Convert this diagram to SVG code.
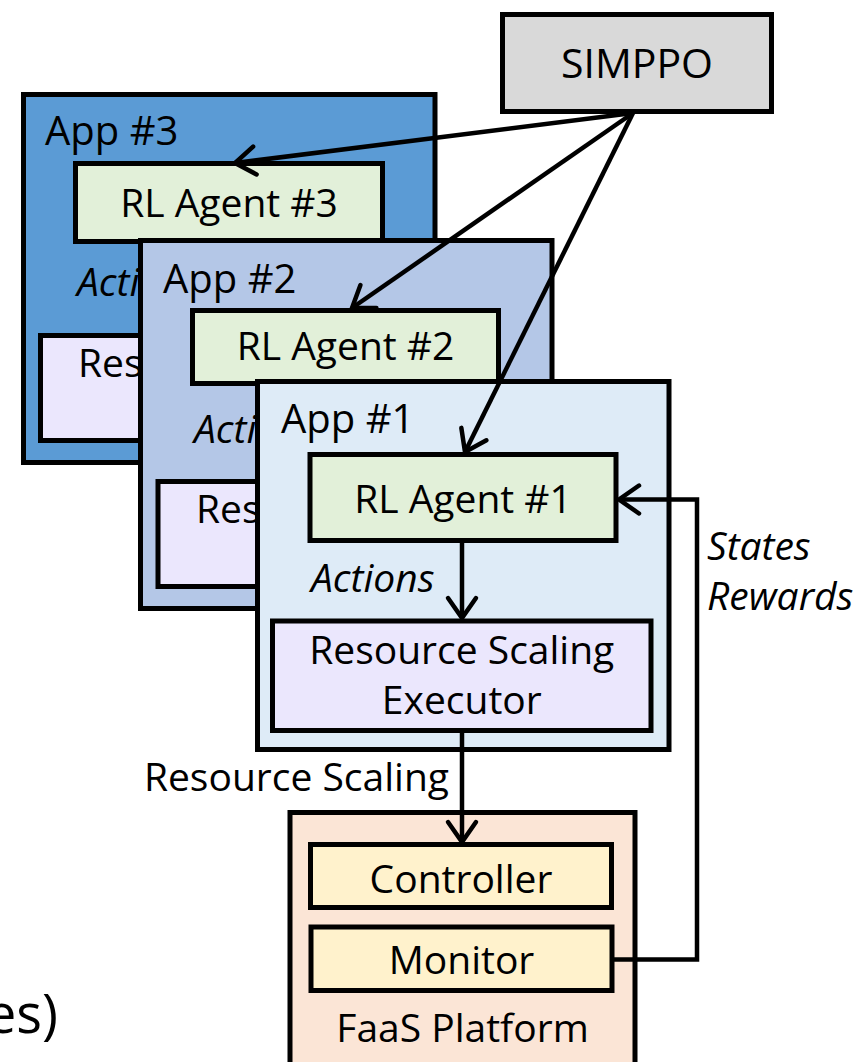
<svg xmlns="http://www.w3.org/2000/svg" width="861" height="1062" viewBox="0 0 861 1062">
<defs>
<style>
.box{stroke:#000;stroke-width:5;}
.t{font-family:"Open Sans","Liberation Sans",sans-serif;font-size:39px;fill:#000;}
.c{text-anchor:middle;}
.i{font-style:italic;}
.ln{fill:none;stroke:#000;stroke-width:4.5;}
</style>
<marker id="ah" markerUnits="userSpaceOnUse" viewBox="-30 -20 40 40" markerWidth="40" markerHeight="40" refX="0" refY="0" orient="auto" overflow="visible">
<path d="M-20,-14 L0,0 L-20,14" fill="none" stroke="#000" stroke-width="4.5" stroke-linecap="round" stroke-linejoin="miter"/>
</marker>
</defs>
<rect width="861" height="1062" fill="#fff"/>

<g id="simppo">
<rect class="box" x="502.5" y="14.5" width="269" height="97" fill="#d9d9d9"/>
<text class="t c" x="637" y="78" style="font-size:41px">SIMPPO</text>
</g>

<g id="app3">
<rect class="box" x="23.5" y="94.5" width="411.5" height="368" fill="#5b9bd5"/>
<text class="t" x="45" y="145" style="font-size:40px">App #3</text>
<g id="agent3">
<rect class="box" x="75.5" y="163.5" width="307" height="78" fill="#e2f0d9"/>
<text class="t c" x="229" y="217">RL Agent #3</text>
</g>
<text class="t i" x="77" y="296">Acti</text>
<g id="exec3">
<rect class="box" x="40.5" y="335.5" width="378" height="105" fill="#ebe7fd"/>
<text class="t" x="78" y="377">Res</text>
</g>
</g>

<g id="app2">
<rect class="box" x="140.5" y="240.5" width="411.5" height="368" fill="#b4c7e7"/>
<text class="t" x="163" y="293" style="font-size:40px">App #2</text>
<g id="agent2">
<rect class="box" x="192.5" y="310.5" width="306" height="73" fill="#e2f0d9"/>
<text class="t c" x="345.5" y="360">RL Agent #2</text>
</g>
<text class="t i" x="194" y="443">Acti</text>
<g id="exec2">
<rect class="box" x="158" y="481.5" width="378" height="105" fill="#ebe7fd"/>
<text class="t" x="196" y="523">Res</text>
</g>
</g>

<g id="app1">
<rect class="box" x="257.5" y="381.5" width="411.5" height="368" fill="#deebf7"/>
<text class="t" x="281" y="433" style="font-size:40px">App #1</text>
<g id="agent1">
<rect class="box" x="310" y="454.5" width="306" height="86" fill="#e2f0d9"/>
<text class="t c" x="463" y="513">RL Agent #1</text>
</g>
<text class="t i" x="311" y="592">Actions</text>
<g id="exec1">
<rect class="box" x="272.5" y="621" width="378.5" height="109.5" fill="#ebe7fd"/>
<text class="t c" x="461.75" y="664">Resource Scaling</text>
<text class="t c" x="461.75" y="714">Executor</text>
</g>
</g>

<g id="faas">
<rect class="box" x="290" y="812.5" width="345" height="270" fill="#fbe5d6"/>
<g id="controller">
<rect class="box" x="310.5" y="844.5" width="301" height="63" fill="#fff2cc"/>
<text class="t c" x="461" y="893">Controller</text>
</g>
<g id="monitor">
<rect class="box" x="311" y="927" width="301" height="63.5" fill="#fff2cc"/>
<text class="t c" x="461.5" y="974">Monitor</text>
</g>
<text class="t c" x="462.5" y="1042">FaaS Platform</text>
</g>

<g id="connectors">
<path class="ln" d="M633,113 L235,163" marker-end="url(#ah)"/>
<path class="ln" d="M633,113 L352,308" marker-end="url(#ah)"/>
<path class="ln" d="M633,113 L465,452" marker-end="url(#ah)"/>
<path class="ln" d="M462,540.5 L462,618" marker-end="url(#ah)"/>
<path class="ln" d="M462,730.5 L462,842" marker-end="url(#ah)"/>
<path class="ln" d="M613.5,959.5 H697 V499.5 H619" marker-end="url(#ah)"/>
<text class="t" x="449" y="791" text-anchor="end">Resource Scaling</text>
<text class="t i" x="707" y="560">States</text>
<text class="t i" x="707" y="610">Rewards</text>
</g>

<text class="t" x="58" y="1033" text-anchor="end" style="font-size:54px">es)</text>
</svg>
